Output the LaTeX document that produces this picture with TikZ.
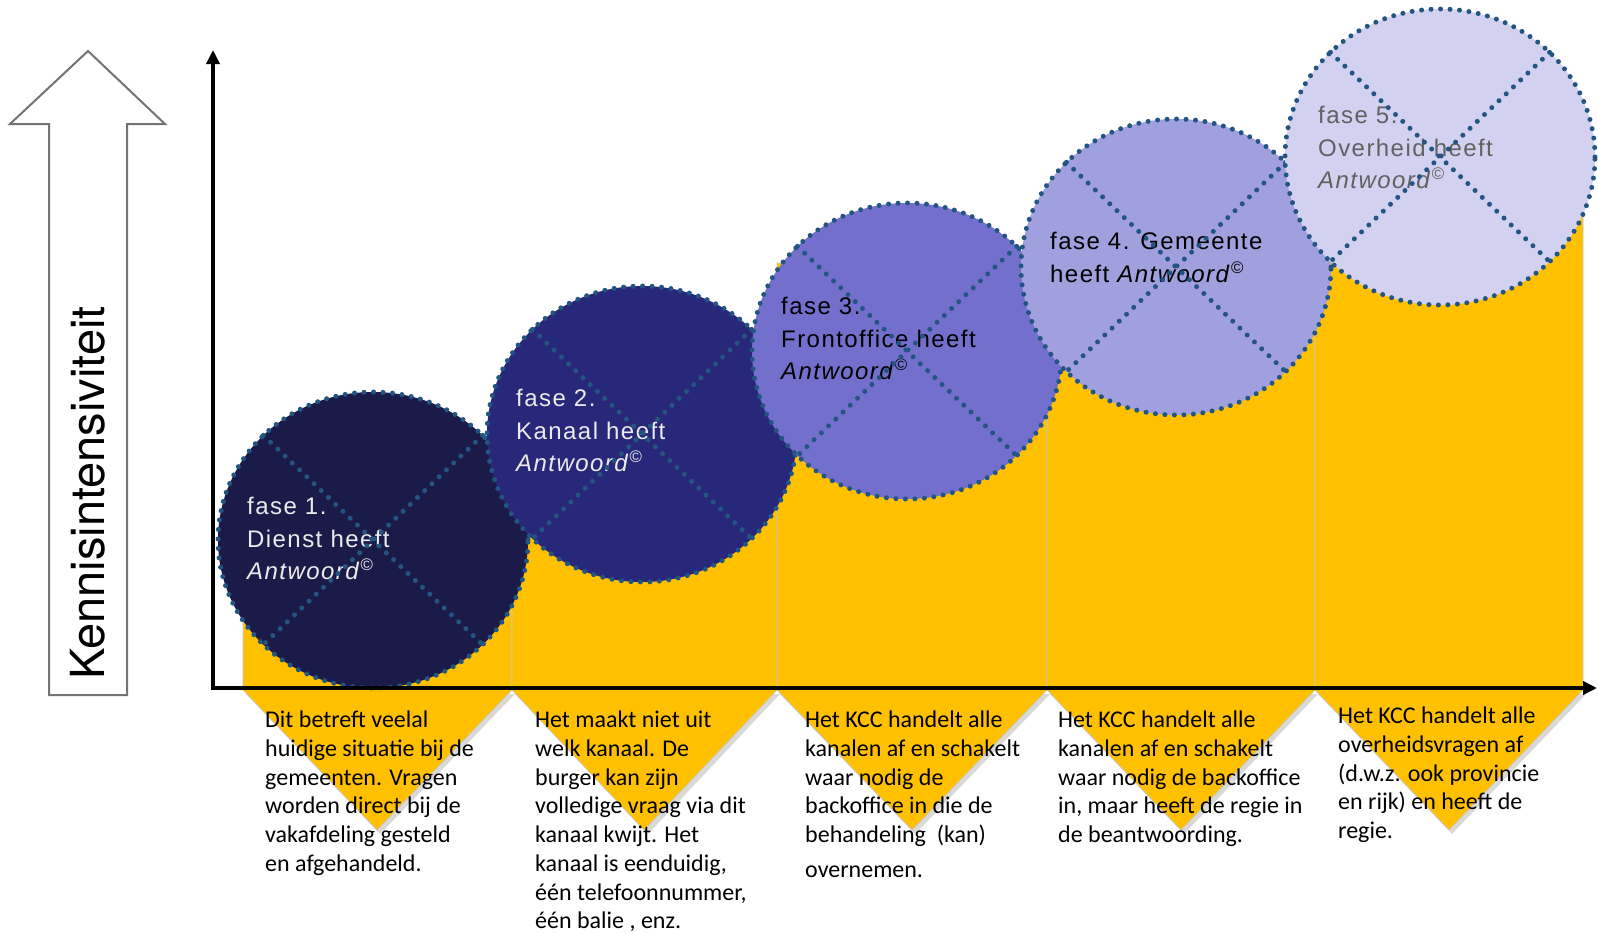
\documentclass[tikz,border=0pt]{standalone}
\usepackage{fontspec}
\setmainfont{Carlito}
\newfontfamily\fasefont[LetterSpace=6]{Liberation Sans}
\newfontfamily\kennisfont{TeX Gyre Heros}
\usetikzlibrary{arrows.meta,shapes.geometric}

\definecolor{kccgold}{RGB}{255,192,0}
\definecolor{faseA}{RGB}{27,27,74}
\definecolor{faseB}{RGB}{40,40,122}
\definecolor{faseC}{RGB}{115,112,205}
\definecolor{faseD}{RGB}{160,160,222}
\definecolor{faseE}{RGB}{210,210,240}
\definecolor{dotblue}{RGB}{35,85,130}

\tikzset{
  fase/.style={ellipse, minimum width=310pt, minimum height=296pt, inner sep=0pt, outer sep=0pt,
    draw=dotblue, line width=5pt, dash pattern=on 0pt off 9.5pt, line cap=round},
  kruis/.style={draw=dotblue, line width=5pt, dash pattern=on 0pt off 10pt, line cap=round},
  fasetekst/.style={anchor=north west, align=left, inner sep=0pt, font=\fasefont\fontsize{24}{32.5}\selectfont},
  uitleg/.style={anchor=north west, align=left, inner sep=0pt, font=\fontsize{24}{28.7}\selectfont},
  kolom/.style={fill=kccgold, draw=gray!45, line width=0.6pt},
  schaduw/.style={fill=black, opacity=0.15},
  as/.style={line width=4pt, line join=miter},
}

\begin{document}
\begin{tikzpicture}[x=1pt, y=-1pt, >={Triangle[length=14pt,width=13pt]}]
    \useasboundingbox (0,0) rectangle (1598,932);

    % Hollow arrow on the left
    \draw[draw=black!55, line width=2pt, fill=white]
        (49,695) -- (49,124) -- (10,124) -- (88,51) -- (165,124) -- (127,124) -- (127,695) -- cycle;
    \node[rotate=90, font=\kennisfont\fontsize{47}{47}\selectfont] (kennis) at (88,493) {Kennisintensiviteit};

    % Shadows under the chevrons
    \fill[schaduw] (246,694) -- (380,834) -- (515,694) -- cycle;
    \fill[schaduw] (515,694) -- (648,834) -- (780,694) -- cycle;
    \fill[schaduw] (780,694) -- (915,834) -- (1050,694) -- cycle;
    \fill[schaduw] (1050,694) -- (1184,834) -- (1318,694) -- cycle;
    \fill[schaduw] (1318,694) -- (1452,834) -- (1586,694) -- cycle;

    % Yellow steps with a chevron below the axis
    \draw[kolom] (243,560) -- (512,560) -- (512,690) -- (377,830) -- (243,690) -- cycle;
    \draw[kolom] (512,440) -- (777,440) -- (777,690) -- (644,830) -- (512,690) -- cycle;
    \draw[kolom] (777,263) -- (1047,263) -- (1047,690) -- (912,830) -- (777,690) -- cycle;
    \draw[kolom] (1047,235) -- (1315,235) -- (1315,690) -- (1181,830) -- (1047,690) -- cycle;
    \draw[kolom] (1315,205) -- (1583,205) -- (1583,690) -- (1449,830) -- (1315,690) -- cycle;

    % Phase 1
    \node[fase, fill=faseA] (fase1) at (373,540) {};
    \node[fasetekst, text=black!8] (tekst1) at (247,497) {fase 1.\\Dienst heeft\\\textit{Antwoord}\textsuperscript{©}};
    \draw[kruis] (fase1.north west) -- (fase1.south east);
    \draw[kruis] (fase1.north east) -- (fase1.south west);

    % Phase 2
    \node[fase, fill=faseB] (fase2) at (642,434) {};
    \node[fasetekst, text=black!8] (tekst2) at (516,389) {fase 2.\\Kanaal heeft\\\textit{Antwoord}\textsuperscript{©}};
    \draw[kruis] (fase2.north west) -- (fase2.south east);
    \draw[kruis] (fase2.north east) -- (fase2.south west);

    % Phase 3
    \node[fase, fill=faseC] (fase3) at (907,351) {};
    \node[fasetekst, text=black] (tekst3) at (781,297) {fase 3.\\Frontoffice heeft\\\textit{Antwoord}\textsuperscript{©}};
    \draw[kruis] (fase3.north west) -- (fase3.south east);
    \draw[kruis] (fase3.north east) -- (fase3.south west);

    % Phase 4
    \node[fase, fill=faseD] (fase4) at (1176,267) {};
    \node[fasetekst, text=black] (tekst4) at (1050,232) {fase 4. Gemeente\\heeft \textit{Antwoord}\textsuperscript{©}};
    \draw[kruis] (fase4.north west) -- (fase4.south east);
    \draw[kruis] (fase4.north east) -- (fase4.south west);

    % Phase 5
    \node[fase, fill=faseE] (fase5) at (1440,157) {};
    \node[fasetekst, text=black!62] (tekst5) at (1318,106) {fase 5.\\Overheid heeft\\\textit{Antwoord}\textsuperscript{©}};
    \draw[kruis] (fase5.north west) -- (fase5.south east);
    \draw[kruis] (fase5.north east) -- (fase5.south west);

    % Axes
    \coordinate (ytop) at (213,50);
    \coordinate (origin) at (213,688);
    \coordinate (xend) at (1597,688);
    \draw[as, <->] (ytop) -- (origin) -- (xend);

    % Explanations under each phase
    \node[uitleg] (uitleg1) at (265,711) {Dit betreft veelal\\huidige situatie bij de\\gemeenten. Vragen\\worden direct bij de\\vakafdeling gesteld\\en afgehandeld.};
    \node[uitleg] (uitleg2) at (535,711) {Het maakt niet uit\\welk kanaal. De\\burger kan zijn\\volledige vraag via dit\\kanaal kwijt. Het\\kanaal is eenduidig,\\één telefoonnummer,\\één balie , enz.};
    \node[uitleg] (uitleg3) at (805,711) {Het KCC handelt alle\\kanalen af en schakelt\\waar nodig de\\backoffice in die de\\behandeling~ (kan)\\[6pt]overnemen.};
    \node[uitleg] (uitleg4) at (1058,711) {Het KCC handelt alle\\kanalen af en schakelt\\waar nodig de backoffice\\in, maar heeft de regie in\\de beantwoording.};
    \node[uitleg] (uitleg5) at (1338,707) {Het KCC handelt alle\\overheidsvragen af\\(d.w.z. ook provincie\\en rijk) en heeft de\\regie.};
\end{tikzpicture}
\end{document}
